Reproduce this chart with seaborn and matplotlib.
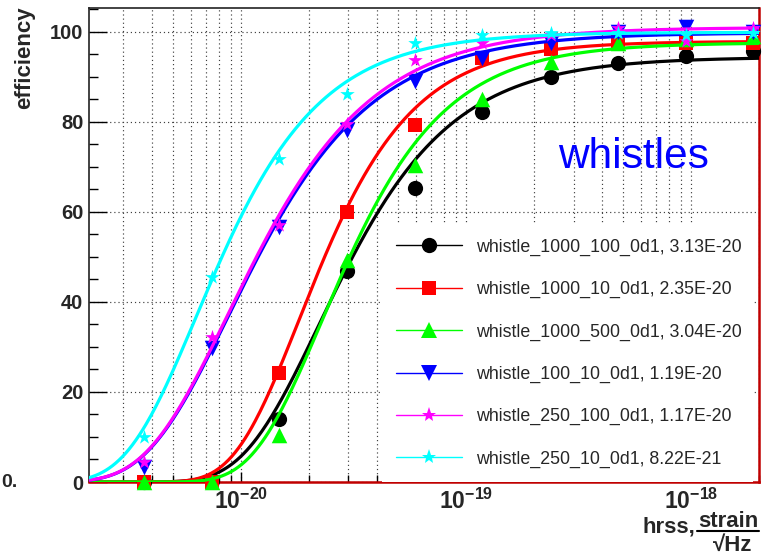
import numpy as np
import matplotlib
matplotlib.use("Agg")
import matplotlib.pyplot as plt
import seaborn as sns
from matplotlib.lines import Line2D
from matplotlib.ticker import FixedLocator, LogLocator, FuncFormatter, MultipleLocator, NullFormatter

# injected strain amplitude (hrss) of each test point
hrss = [3.7e-21, 7.4e-21, 1.48e-20, 2.96e-20, 5.92e-20,
        1.18e-19, 2.37e-19, 4.74e-19, 9.47e-19, 1.89e-18]

waveforms = ["whistle_1000_100_0d1", "whistle_1000_10_0d1", "whistle_1000_500_0d1",
             "whistle_100_10_0d1", "whistle_250_100_0d1", "whistle_250_10_0d1"]

# hrss at 50% efficiency for each waveform
hrss50 = [3.13e-20, 2.35e-20, 3.04e-20, 1.19e-20, 1.17e-20, 8.22e-21]

# detection efficiency (%) at each hrss
eff_1000_100 = [0.0, 0.3, 13.9, 46.8, 65.3, 82.3, 90.0, 93.0, 94.7, 95.7]
eff_1000_10 = [0.0, 0.0, 24.2, 60.0, 79.2, 94.2, 96.3, 97.8, 97.5, 97.5]
eff_1000_500 = [0.0, 0.0, 10.4, 49.3, 70.5, 85.0, 93.4, 97.5, 98.5, 99.0]
eff_100_10 = [3.3, 29.7, 56.6, 78.3, 89.0, 94.2, 97.5, 100.0, 101.0, 100.0]
eff_250_100 = [4.5, 32.3, 57.1, 79.5, 93.8, 97.5, 99.3, 100.8, 98.0, 100.8]
eff_250_10 = [9.9, 45.6, 71.7, 86.3, 97.5, 99.3, 99.7, 99.7, 99.3, 99.7]

efficiencies = [eff_1000_100, eff_1000_10, eff_1000_500, eff_100_10, eff_250_100, eff_250_10]

colors = ["#000000", "#ff0000", "#00ff00", "#0000ff", "#ff00ff", "#00ffff"]
markers = ["o", "s", "^", "v", "*", "*"]
marker_sizes = [120, 105, 125, 125, 120, 120]   # scatter sizes (pt^2)
legend_ms = [11, 10, 11.5, 11.5, 11, 11]

XMIN, XMAX = 2.11e-21, 2.0e-18
YMIN, YMAX = 0.0, 105.3

sns.set_theme(style="white")
plt.rcParams["font.family"] = ["Liberation Sans", "DejaVu Sans"]
plt.rcParams["mathtext.fontset"] = "custom"
plt.rcParams["mathtext.rm"] = "Liberation Sans"
plt.rcParams["mathtext.bf"] = "Liberation Sans:bold"
plt.rcParams["mathtext.it"] = "Liberation Sans:italic"


def fit_efficiency(x, eff, x50):
    """Least-squares fit of eff = A*exp(-(x/s)^-p), constrained to 50% at x50."""
    x = np.asarray(x)
    eff = np.asarray(eff)
    A = np.linspace(88, 104, 161)[:, None, None]
    P = np.linspace(0.5, 5.0, 226)[None, :, None]
    u = np.log(A / 50.0) * (x[None, None, :] / x50) ** (-P)
    model = A * np.exp(-u)
    sse = ((model - eff[None, None, :]) ** 2).sum(axis=2)
    i, j = np.unravel_index(np.argmin(sse), sse.shape)
    return A[i, 0, 0], P[0, j, 0]


def efficiency_curve(x, a, p, x50):
    return a * np.exp(-np.log(a / 50.0) * (x / x50) ** (-p))


fig = plt.figure(figsize=(7.66, 5.58), dpi=100)
W, H = 766.0, 558.0
ax = fig.add_axes([89 / W, 1 - 482 / H, 670 / W, 474 / H])
ax.set_xscale("log")
ax.set_xlim(XMIN, XMAX)
ax.set_ylim(YMIN, YMAX)

x_curve = np.logspace(np.log10(XMIN), np.log10(XMAX), 400)

handles = []
for i, (name, eff, h50) in enumerate(zip(waveforms, efficiencies, hrss50)):
    col, mk = colors[i], markers[i]
    sns.scatterplot(x=hrss, y=eff, marker=mk, s=marker_sizes[i], color=col,
                    linewidth=0, ax=ax, legend=False, zorder=3 + 2 * i, clip_on=False)
    a, p = fit_efficiency(hrss, eff, h50)
    sns.lineplot(x=x_curve, y=efficiency_curve(x_curve, a, p, h50), color=col,
                 linewidth=2.3, ax=ax, estimator=None, sort=False, legend=False,
                 zorder=4 + 2 * i)
    handles.append(Line2D([], [], color=col, lw=1.0, marker=mk, ms=legend_ms[i],
                          markeredgewidth=0, label=f"{name}, {h50:.2E}"))

# axes ticks and grid
ax.xaxis.set_major_locator(FixedLocator([1e-20, 1e-19, 1e-18]))
ax.xaxis.set_minor_locator(LogLocator(base=10, subs=np.arange(2, 10), numticks=20))
ax.xaxis.set_major_formatter(FuncFormatter(
    lambda v, p: r"$\mathbf{10^{%d}}$" % int(round(np.log10(v)))))
ax.xaxis.set_minor_formatter(NullFormatter())

ax.yaxis.set_major_locator(FixedLocator([0, 20, 40, 60, 80, 100]))
ax.yaxis.set_minor_locator(MultipleLocator(5))
ax.set_yticklabels(["0", "20", "40", "60", "80", "100"], fontweight="bold")

ax.tick_params(axis="x", which="major", direction="in", length=7, width=1,
               labelsize=16.5, pad=5, bottom=True, top=False, color="black")
ax.tick_params(axis="x", which="minor", direction="in", length=5, width=1,
               bottom=True, top=False, color="black")
ax.tick_params(axis="y", which="major", direction="in", length=13, width=1,
               labelsize=14.5, pad=4, left=True, right=False, color="black")
ax.tick_params(axis="y", which="minor", direction="in", length=6.5, width=1,
               left=True, right=False, color="black")

ax.grid(which="both", axis="x", color="0.25", linestyle=(0, (1, 2.5)), linewidth=0.85)
ax.grid(which="major", axis="y", color="0.25", linestyle=(0, (1, 2.5)), linewidth=0.85)

for side in ["left", "top"]:
    ax.spines[side].set_color("#222222")
    ax.spines[side].set_linewidth(1.2)
for side in ["right", "bottom"]:
    ax.spines[side].set_color("#c00000")
    ax.spines[side].set_linewidth(1.8)

# legend box
leg = ax.legend(handles=handles, loc="upper left",
                bbox_to_anchor=(0.4375, 0.0095, 0.553, 0.533), mode="expand",
                borderaxespad=0, frameon=True, fancybox=False, framealpha=1,
                facecolor="white", edgecolor="none", fontsize=12.8,
                handlelength=3.7, handletextpad=0.8, labelspacing=1.42,
                borderpad=0.77)
leg.set_zorder(20)

# panel title
ax.text(0.812, 0.686, "whistles", transform=ax.transAxes, color="#0000ff",
        fontsize=30.5, ha="center", va="center", zorder=21)

# axis titles
fig.text(25 / W, 1 - 6 / H, "efficiency", rotation=90, ha="center", va="top",
         fontsize=16, fontweight="bold")
fig.text(642 / W, 1 - 533 / H, "hrss,", ha="left", va="baseline",
         fontsize=16, fontweight="bold")
fig.text(728 / W, 1 - 527 / H, "strain", ha="center", va="baseline",
         fontsize=16, fontweight="bold")
fig.add_artist(Line2D([697 / W, 759 / W], [1 - 531 / H, 1 - 531 / H],
                      transform=fig.transFigure, color="black", lw=1.5))
fig.text(733 / W, 1 - 551 / H, "\u221aHz", ha="center", va="baseline",
         fontsize=16, fontweight="bold")

# panel mark at the lower left
fig.text(1 / W, 1 - 487 / H, "0.", ha="left", va="baseline",
         fontsize=14, fontweight="bold")

fig.savefig("out.png", dpi=100)
